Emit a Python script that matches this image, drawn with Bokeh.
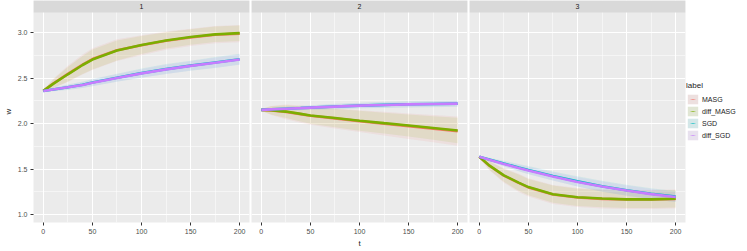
import math
from bokeh.plotting import figure
from bokeh.layouts import row
from bokeh.models import (Range1d, FixedTicker, Legend, LegendItem, Label,
                          BoxAnnotation, PrintfTickFormatter)
from bokeh.embed import file_html
from bokeh.resources import INLINE

# ---------------- data ----------------
t = [0, 10, 25, 40, 50, 75, 100, 125, 150, 175, 200]
labels = ["MASG", "diff_MASG", "SGD", "diff_SGD"]
panels = ["1", "2", "3"]

# panel 1
p1_MASG = [2.36, 2.44, 2.548, 2.65, 2.71, 2.808, 2.862, 2.912, 2.948, 2.978, 2.99]
p1_diff_MASG = [2.36, 2.437, 2.543, 2.645, 2.705, 2.805, 2.865, 2.915, 2.952, 2.982, 2.995]
p1_SGD = [2.36, 2.376, 2.401, 2.428, 2.452, 2.505, 2.556, 2.6, 2.638, 2.673, 2.708]
p1_diff_SGD = [2.36, 2.375, 2.40, 2.426, 2.45, 2.503, 2.553, 2.597, 2.635, 2.67, 2.705]
p1_MASG_sd = [0.01, 0.05, 0.09, 0.11, 0.12, 0.12, 0.11, 0.10, 0.095, 0.095, 0.095]
p1_diff_MASG_sd = [0.01, 0.045, 0.08, 0.10, 0.11, 0.11, 0.10, 0.09, 0.085, 0.085, 0.085]
p1_SGD_sd = [0.005, 0.02, 0.03, 0.035, 0.04, 0.045, 0.05, 0.055, 0.055, 0.06, 0.06]
p1_diff_SGD_sd = [0.005, 0.015, 0.025, 0.03, 0.035, 0.04, 0.045, 0.05, 0.05, 0.055, 0.055]

# panel 2
p2_MASG = [2.152, 2.145, 2.13, 2.105, 2.088, 2.058, 2.028, 2.0, 1.973, 1.946, 1.918]
p2_diff_MASG = [2.152, 2.147, 2.133, 2.108, 2.09, 2.062, 2.033, 2.006, 1.98, 1.953, 1.926]
p2_SGD = [2.152, 2.158, 2.165, 2.172, 2.177, 2.189, 2.199, 2.207, 2.213, 2.217, 2.221]
p2_diff_SGD = [2.152, 2.157, 2.164, 2.171, 2.176, 2.188, 2.198, 2.206, 2.212, 2.216, 2.22]
p2_MASG_sd = [0.01, 0.05, 0.08, 0.095, 0.10, 0.11, 0.12, 0.13, 0.14, 0.15, 0.16]
p2_diff_MASG_sd = [0.01, 0.045, 0.07, 0.085, 0.09, 0.10, 0.11, 0.115, 0.12, 0.13, 0.14]
p2_SGD_sd = [0.005, 0.015, 0.02, 0.025, 0.025, 0.03, 0.03, 0.035, 0.035, 0.035, 0.035]
p2_diff_SGD_sd = [0.005, 0.012, 0.018, 0.02, 0.022, 0.025, 0.028, 0.03, 0.03, 0.03, 0.03]

# panel 3
p3_MASG = [1.637, 1.54, 1.43, 1.35, 1.30, 1.222, 1.188, 1.174, 1.166, 1.166, 1.172]
p3_diff_MASG = [1.637, 1.542, 1.432, 1.352, 1.303, 1.225, 1.191, 1.177, 1.168, 1.168, 1.175]
p3_SGD = [1.637, 1.607, 1.562, 1.518, 1.49, 1.425, 1.366, 1.313, 1.268, 1.23, 1.2]
p3_diff_SGD = [1.637, 1.605, 1.558, 1.514, 1.486, 1.42, 1.36, 1.31, 1.265, 1.226, 1.195]
p3_MASG_sd = [0.008, 0.05, 0.08, 0.10, 0.10, 0.105, 0.105, 0.105, 0.105, 0.105, 0.105]
p3_diff_MASG_sd = [0.008, 0.045, 0.07, 0.09, 0.09, 0.095, 0.095, 0.095, 0.095, 0.095, 0.095]
p3_SGD_sd = [0.005, 0.02, 0.03, 0.04, 0.045, 0.05, 0.055, 0.06, 0.06, 0.06, 0.06]
p3_diff_SGD_sd = [0.005, 0.015, 0.025, 0.035, 0.04, 0.045, 0.05, 0.055, 0.055, 0.055, 0.055]

x_ticks = [0, 50, 100, 150, 200]
x_minor = [25, 75, 125, 175]
y_ticks = [1.0, 1.5, 2.0, 2.5, 3.0]
y_minor = [1.25, 1.75, 2.25, 2.75]

panel_data = {
    "1": {"MASG": (p1_MASG, p1_MASG_sd), "diff_MASG": (p1_diff_MASG, p1_diff_MASG_sd),
          "SGD": (p1_SGD, p1_SGD_sd), "diff_SGD": (p1_diff_SGD, p1_diff_SGD_sd)},
    "2": {"MASG": (p2_MASG, p2_MASG_sd), "diff_MASG": (p2_diff_MASG, p2_diff_MASG_sd),
          "SGD": (p2_SGD, p2_SGD_sd), "diff_SGD": (p2_diff_SGD, p2_diff_SGD_sd)},
    "3": {"MASG": (p3_MASG, p3_MASG_sd), "diff_MASG": (p3_diff_MASG, p3_diff_MASG_sd),
          "SGD": (p3_SGD, p3_SGD_sd), "diff_SGD": (p3_diff_SGD, p3_diff_SGD_sd)},
}

# ---------------- style / layout ----------------
FONT = "Liberation Sans"
COLORS = {"MASG": "#F8766D", "diff_MASG": "#7CAE00", "SGD": "#00BFC4", "diff_SGD": "#C77CFF"}
PANEL_W = 216
PANEL_H = 210          # data area height in px
STRIP_H = 12           # facet strip height in px
Y0, Y1 = 0.914, 3.222  # data range of the panel area
Y_STRIP_TOP = Y1 + STRIP_H * (Y1 - Y0) / PANEL_H
LEG_W = 56


def make_panel(name, left, right, first, show_xlabel):
    p = figure(frame_width=PANEL_W, frame_height=PANEL_H + STRIP_H,
               x_range=Range1d(-10, 210), y_range=Range1d(Y0, Y_STRIP_TOP),
               output_backend="svg", toolbar_location=None,
               min_border_left=left, min_border_right=right,
               min_border_top=0, min_border_bottom=0)
    p.background_fill_color = "#EBEBEB"
    p.border_fill_color = "white"
    p.outline_line_color = None

    xt = FixedTicker(ticks=x_ticks, minor_ticks=x_minor)
    yt = FixedTicker(ticks=y_ticks, minor_ticks=y_minor)
    p.xaxis.ticker = xt
    p.yaxis.ticker = yt
    p.xgrid.ticker = xt
    p.ygrid.ticker = yt
    p.yaxis.formatter = PrintfTickFormatter(format="%.1f")
    for g in (p.xgrid, p.ygrid):
        g.grid_line_color = "white"
        g.grid_line_width = 1.1
        g.minor_grid_line_color = "white"
        g.minor_grid_line_width = 0.5

    for ax in (p.xaxis, p.yaxis):
        ax.axis_line_color = None
        ax.major_tick_line_color = "#333333"
        ax.major_tick_out = 3
        ax.major_tick_in = 0
        ax.minor_tick_line_color = None
        ax.major_label_text_font = FONT
        ax.major_label_text_font_size = "7px"
        ax.major_label_text_color = "#4D4D4D"
        ax.major_label_standoff = 2
        ax.axis_label_text_font = FONT
        ax.axis_label_text_font_size = "8px"
        ax.axis_label_text_font_style = "normal"
        ax.axis_label_text_color = "#1A1A1A"
        ax.axis_label_standoff = 2

    if first:
        p.yaxis.axis_label = "w"
    else:
        p.yaxis.visible = False
    if show_xlabel:
        p.xaxis.axis_label = "t"

    data = panel_data[name]
    for lab in labels:
        m, sd = data[lab]
        lo = [a - b for a, b in zip(m, sd)]
        hi = [a + b for a, b in zip(m, sd)]
        p.varea(x=t, y1=lo, y2=hi, fill_color=COLORS[lab], fill_alpha=0.1)
    for lab in labels:
        m, _ = data[lab]
        p.line(t, m, line_color=COLORS[lab], line_width=2.6)

    # facet strip
    p.add_layout(BoxAnnotation(bottom=Y1, fill_color="#D9D9D9", fill_alpha=1,
                               line_color=None))
    p.add_layout(Label(x=100, y=(Y1 + Y_STRIP_TOP) / 2, text=name,
                       text_align="center", text_baseline="middle",
                       text_font=FONT, text_font_size="7px",
                       text_color="#1A1A1A"))
    return p


f1 = make_panel("1", 24, 1, True, False)
f2 = make_panel("2", 1, 1, False, True)
f3 = make_panel("3", 1, 1, False, False)

# legend figure
f4 = figure(frame_width=LEG_W, frame_height=PANEL_H + STRIP_H,
            x_range=Range1d(0, 1), y_range=Range1d(0, 1),
            output_backend="svg", toolbar_location=None,
            min_border_left=0, min_border_right=0, min_border_top=0,
            min_border_bottom=0)
f4.axis.visible = False
f4.grid.visible = False
f4.outline_line_color = None
f4.background_fill_color = "white"
f4.border_fill_color = "white"

nan = float("nan")
items = []
for lab in labels:
    key = f4.varea(x=[nan], y1=[nan], y2=[nan], fill_color="#EDEDED", fill_alpha=1)
    tint = f4.varea(x=[nan], y1=[nan], y2=[nan], fill_color=COLORS[lab], fill_alpha=0.1)
    bar = f4.scatter(x=[nan], y=[nan], marker="dash", angle=math.pi / 2,
                     line_color=COLORS[lab], line_alpha=0.55, line_width=0.8)
    dot = f4.scatter(x=[nan], y=[nan], marker="dot",
                     line_color=COLORS[lab], fill_color=COLORS[lab], line_alpha=0.8)
    items.append(LegendItem(label=lab, renderers=[key, tint, bar, dot]))

legend = Legend(items=items, title="label", location="left",
                title_text_font=FONT, title_text_font_size="8px",
                title_text_font_style="normal", title_text_color="#1A1A1A",
                label_text_font=FONT, label_text_font_size="7px",
                label_text_color="#1A1A1A",
                glyph_width=13, glyph_height=12, label_height=12,
                spacing=0, padding=3, margin=0, label_standoff=3,
                background_fill_alpha=0, border_line_color=None,
                title_standoff=3)
f4.add_layout(legend, "center")

layout = row(f1, f2, f3, f4, spacing=0)
open("out.html", "w").write(file_html(layout, INLINE))
